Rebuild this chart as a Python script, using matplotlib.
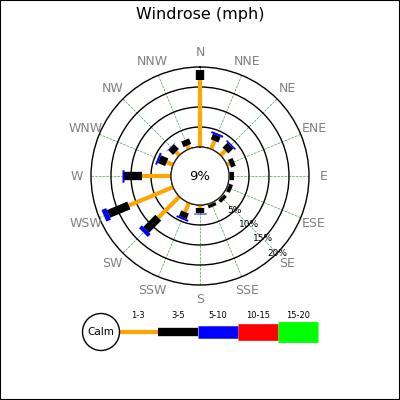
import numpy as np
import matplotlib
matplotlib.use('Agg')
import matplotlib.pyplot as plt
from matplotlib.patches import Circle, Rectangle

# wind directions and frequency (%) per speed bin
directions = ['N', 'NNE', 'NE', 'ENE', 'E', 'ESE', 'SE', 'SSE',
              'S', 'SSW', 'SW', 'WSW', 'W', 'WNW', 'NW', 'NNW']
speed_bins = ['1-3', '3-5', '5-10', '10-15', '15-20']
freq_1_3 = [16.75, 2.25, 1.75, 0.75, 0.3, 0.25, 0.3, 0.25,
            0.75, 2.5, 7.5, 12.0, 7.3, 1.75, 1.25, 1.0]
freq_3_5 = [2.5, 1.5, 1.75, 1.25, 0.9, 1.0, 0.9, 0.8,
            1.25, 1.5, 4.25, 5.5, 4.5, 2.0, 1.75, 1.5]
freq_5_10 = [0, 0.5, 0.4, 0, 0, 0, 0, 0,
             0.3, 0.5, 1.0, 1.25, 0.4, 0.5, 0.1, 0]
freq_10_15 = [0] * 16
freq_15_20 = [0] * 16
calm_pct = 9
ring_pcts = [5, 10, 15, 20]

colors = ['orange', 'black', 'blue', 'red', 'lime']
widths = [3, 6, 9, 12, 15]

fig = plt.figure(figsize=(4, 4), dpi=100)
fig.patches.append(Rectangle((0, 0), 1, 1, transform=fig.transFigure,
                             fill=False, ec='black', lw=1.5))
fig.text(0.5, 1 - 14 / 400, 'Windrose (mph)', ha='center', va='center',
         fontsize=11.5)

ax = fig.add_axes([0.2275, 0.2875, 0.545, 0.545], projection='polar')
ax.set_theta_zero_location('N')
ax.set_theta_direction(-1)
ax.set_rorigin(-7.25)
ax.set_ylim(0, 20)

theta = np.radians(np.arange(16) * 22.5)
ax.set_xticks(theta)
ax.set_xticklabels([])
ax.set_yticks(ring_pcts[:-1])
ax.set_yticklabels([])
ax.xaxis.grid(True, color='#4c9a4c', ls='--', lw=0.5)
ax.yaxis.grid(True, color='black', ls='-', lw=1.0)
ax.spines['polar'].set_color('black')
ax.spines['polar'].set_linewidth(1.0)
ax.tick_params(length=0)

for th, lab in zip(theta, directions):
    ax.text(th, 23.6, lab, ha='center', va='center', color='gray', fontsize=9)
for p in ring_pcts:
    ax.text(np.radians(135), p, f'{p}%', ha='center', va='center', fontsize=6.5)

# stacked bars drawn as thick radial lines
series = [freq_1_3, freq_3_5, freq_5_10, freq_10_15, freq_15_20]
base = np.zeros(16)
for vals, c, w in zip(series, colors, widths):
    vals = np.array(vals, dtype=float)
    for i in range(16):
        if vals[i] > 0:
            ax.plot([theta[i], theta[i]], [base[i], base[i] + vals[i]],
                    color=c, lw=w, solid_capstyle='butt', zorder=3)
    base += vals

calm = Circle((0.5, 0.5), 7.25 / 27.25 * 0.5, transform=ax.transAxes,
              fc='white', ec='black', lw=1.0, zorder=5)
ax.add_artist(calm)
ax.text(0.5, 0.5, f'{calm_pct}%', transform=ax.transAxes, ha='center',
        va='center', fontsize=9.5, zorder=6)

# legend
lax = fig.add_axes([0, 0, 1, 0.25])
lax.set_xlim(0, 400)
lax.set_ylim(400, 300)
lax.axis('off')
lax.add_patch(Circle((101, 332), 18.5, fc='white', ec='black', lw=1.0, zorder=3))
lax.text(101, 332, 'Calm', ha='center', va='center', fontsize=7.5, zorder=4)
x0 = 118
for i, (lab, c, w) in enumerate(zip(speed_bins, colors, widths)):
    xa = x0 + 40 * i
    lax.plot([xa, xa + 40], [332, 332], color=c, lw=w, solid_capstyle='butt')
    lax.text(xa + 20, 315, lab, ha='center', va='center', fontsize=6)

fig.savefig('out.png', dpi=100)
